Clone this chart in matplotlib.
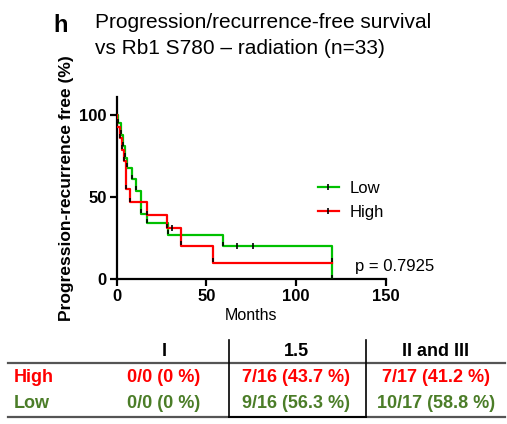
import matplotlib
matplotlib.use("Agg")
import matplotlib.pyplot as plt
from matplotlib.lines import Line2D

plt.rcParams['font.family'] = ['Liberation Sans', 'DejaVu Sans']

# Kaplan-Meier steps (months, % free)
low_t = [0, 0.5, 2.4, 3.7, 4.6, 5.6, 8.5, 10.7, 13.3, 16.7, 28.7, 59, 120]
low_s = [100, 95, 88, 81, 74, 68, 61, 54, 40, 34, 27, 20, 0]
low_cens_t = [67, 76]
low_cens_s = [20, 20]

high_t = [0, 0.3, 1.8, 3.2, 4.2, 5.2, 7.4, 16.7, 27.8, 35.7, 53.7, 120]
high_s = [100, 93, 86, 79, 72, 55, 47, 39, 31, 20.5, 10, 10]
high_cens_t = [31]
high_cens_s = [31]

green = '#00c000'
red = '#ff0000'
olive = '#4b7d28'

# table contents
col_labels = ['I', '1.5', 'II and III']
row_labels = ['High', 'Low']
cells = [['0/0 (0 %)', '7/16 (43.7 %)', '7/17 (41.2 %)'],
         ['0/0 (0 %)', '9/16 (56.3 %)', '10/17 (58.8 %)']]

W, H = 507, 424
fig = plt.figure(figsize=(W / 100, H / 100), dpi=100)
ax = fig.add_axes([116.7 / W, 1 - 279.3 / H, (386 - 116.7) / W, 182.3 / H])

for t, s, c in [(low_t, low_s, green), (high_t, high_s, red)]:
    ax.step(t, s, where='post', color=c, lw=1.6, zorder=3)
    # small black marks at the foot of every drop
    ax.plot(t[1:], [v + 1.5 for v in s[1:]], ls='none', marker='|', ms=3.5,
            mew=1.2, color='black', zorder=4)
ax.plot(low_cens_t, low_cens_s, ls='none', marker='|', ms=4, mew=1.2, color='black', zorder=4)
ax.plot(high_cens_t, high_cens_s, ls='none', marker='|', ms=4, mew=1.2, color='black', zorder=4)

ax.set_xlim(0, 150)
ax.set_ylim(0, 111)
ax.set_xticks([0, 50, 100, 150])
ax.set_yticks([0, 50, 100])
for sp in ['top', 'right']:
    ax.spines[sp].set_visible(False)
for sp in ['left', 'bottom']:
    ax.spines[sp].set_linewidth(1.6)
ax.tick_params(direction='out', length=5, width=1.6, labelsize=12, pad=2)
for lab in ax.get_xticklabels() + ax.get_yticklabels():
    lab.set_fontweight('bold')
ax.set_xlabel('Months', fontsize=11.5, labelpad=3)
ax.set_ylabel('Progression-recurrence free (%)', fontsize=12.5, fontweight='bold', labelpad=4)

handles = [Line2D([], [], color=green, lw=1.6, marker='|', mec='black', ms=4, mew=1.2),
           Line2D([], [], color=red, lw=1.6, marker='|', mec='black', ms=4, mew=1.2)]
ax.legend(handles, ['Low', 'High'], loc='upper left', bbox_to_anchor=(0.69, 0.62),
          frameon=False, fontsize=12, handlelength=1.3, handletextpad=0.6,
          labelspacing=0.5)
fig.text(355 / W, 1 - 266 / H, 'p = 0.7925', fontsize=12, va='center')

# panel letter and title
fig.text(53 / W, 1 - 26 / H, 'h', fontsize=17, fontweight='bold', va='center')
fig.text(95 / W, 1 - 22 / H, 'Progression/recurrence-free survival', fontsize=15, va='center')
fig.text(95 / W, 1 - 48 / H, 'vs Rb1 S780 \u2013 radiation (n=33)', fontsize=15, va='center')

# table below the plot
col_x = [164, 296, 436]
for x, lab in zip(col_x, col_labels):
    fig.text(x / W, 1 - 352 / H, lab, fontsize=13, fontweight='bold', ha='center', va='center')
row_y = [377, 404]
row_col = [red, olive]
for y, lab, c, vals in zip(row_y, row_labels, row_col, cells):
    fig.text(14 / W, 1 - y / H, lab, fontsize=13, fontweight='bold', color=c, va='center')
    for x, v in zip(col_x, vals):
        fig.text(x / W, 1 - y / H, v, fontsize=13, fontweight='bold', color=c,
                 ha='center', va='center')


def hline(x0, x1, y, color, lw):
    fig.add_artist(Line2D([x0 / W, x1 / W], [1 - y / H, 1 - y / H], color=color, lw=lw,
                          transform=fig.transFigure))


def vline(x, y0, y1, color, lw):
    fig.add_artist(Line2D([x / W, x / W], [1 - y0 / H, 1 - y1 / H], color=color, lw=lw,
                          transform=fig.transFigure))


hline(8, 505, 363, '#555555', 1.6)
hline(8, 505, 417, '#555555', 1.6)
hline(229, 366, 417, 'black', 1.4)
vline(229, 340, 417, 'black', 1.2)
vline(366, 340, 417, 'black', 1.2)

fig.savefig('out.png', dpi=100)
